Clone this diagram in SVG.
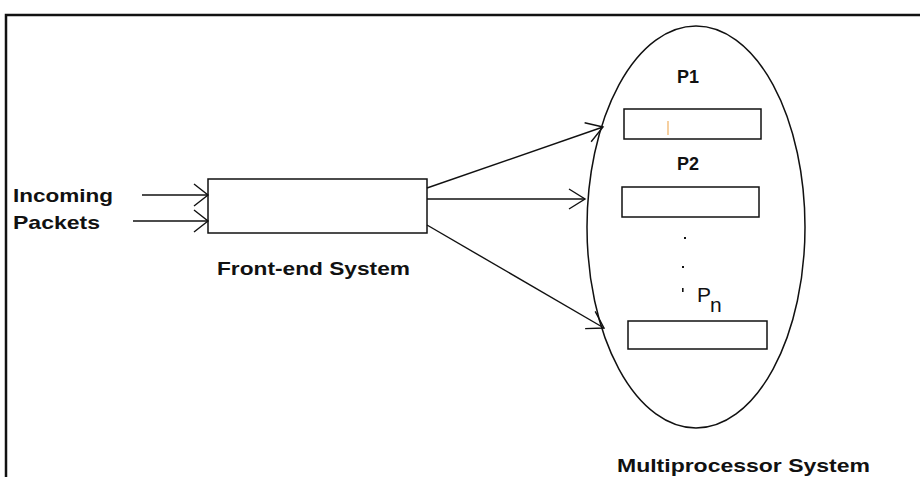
<svg xmlns="http://www.w3.org/2000/svg" width="920" height="477" viewBox="0 0 920 477">
<style>
.lbl{font-family:"Liberation Sans",Arial,sans-serif;font-weight:bold;font-size:19px;fill:#111}
.shape{fill:#fff;stroke:#111;stroke-width:1.5}
.conn{fill:none;stroke:#111;stroke-width:1.4}
</style>
<defs>
<marker id="ah" markerUnits="userSpaceOnUse" markerWidth="30" markerHeight="30" refX="0" refY="0" viewBox="-20 -15 25 30" orient="auto">
<path d="M-16,-10 L0,0 L-16,10" fill="none" stroke="#111" stroke-width="1.4"/>
</marker>
<marker id="ahw" markerUnits="userSpaceOnUse" markerWidth="30" markerHeight="30" refX="0" refY="0" viewBox="-20 -15 25 30" orient="auto">
<path d="M-14,-11 L0,0 L-14,11" fill="none" stroke="#111" stroke-width="1.4"/>
</marker>
</defs>
<rect width="920" height="477" fill="#fff"/>
<g id="frame">
<path d="M6,477 L6,15 L920,15" fill="none" stroke="#111" stroke-width="2.5"/>
</g>
<g id="incoming">
<text class="lbl" x="13" y="202" textLength="100" lengthAdjust="spacingAndGlyphs">Incoming</text>
<text class="lbl" x="13" y="229" textLength="87" lengthAdjust="spacingAndGlyphs">Packets</text>
</g>
<g id="frontend">
<rect class="shape" x="208" y="179" width="219" height="54"/>
<text class="lbl" x="217" y="275" textLength="193" lengthAdjust="spacingAndGlyphs">Front-end System</text>
</g>
<g id="multiprocessor">
<ellipse class="shape" cx="696" cy="227" rx="109" ry="201"/>
<text class="lbl" x="617" y="472" textLength="253" lengthAdjust="spacingAndGlyphs">Multiprocessor System</text>
</g>
<g id="p1">
<text class="lbl" x="677" y="83" textLength="22" lengthAdjust="spacingAndGlyphs">P1</text>
<rect class="shape" x="624" y="109" width="137" height="30"/>
<line x1="668" y1="121" x2="668" y2="135" stroke="#f0b060" stroke-width="1.2"/>
</g>
<g id="p2">
<text class="lbl" x="677" y="170" textLength="22" lengthAdjust="spacingAndGlyphs">P2</text>
<rect class="shape" x="622" y="187" width="137" height="30"/>
</g>
<g id="dots">
<rect x="684" y="237" width="2" height="2" fill="#111"/>
<rect x="682" y="266" width="2" height="2" fill="#111"/>
<rect x="682" y="288" width="1.6" height="4" fill="#111"/>
</g>
<g id="pn">
<text x="697" y="302" font-family="Liberation Sans,Arial,sans-serif" font-size="21" fill="#111">P<tspan x="710" y="312">n</tspan></text>
<rect class="shape" x="628" y="321" width="139" height="28"/>
</g>
<g id="connectors">
<line class="conn" x1="142" y1="195" x2="208" y2="195" marker-end="url(#ahw)"/>
<line class="conn" x1="133" y1="221" x2="208" y2="221" marker-end="url(#ahw)"/>
<line class="conn" x1="427" y1="188" x2="603" y2="127" marker-end="url(#ah)"/>
<line class="conn" x1="427" y1="199" x2="585" y2="199" marker-end="url(#ah)"/>
<line class="conn" x1="427" y1="225" x2="604" y2="328" marker-end="url(#ah)"/>
</g>
</svg>
